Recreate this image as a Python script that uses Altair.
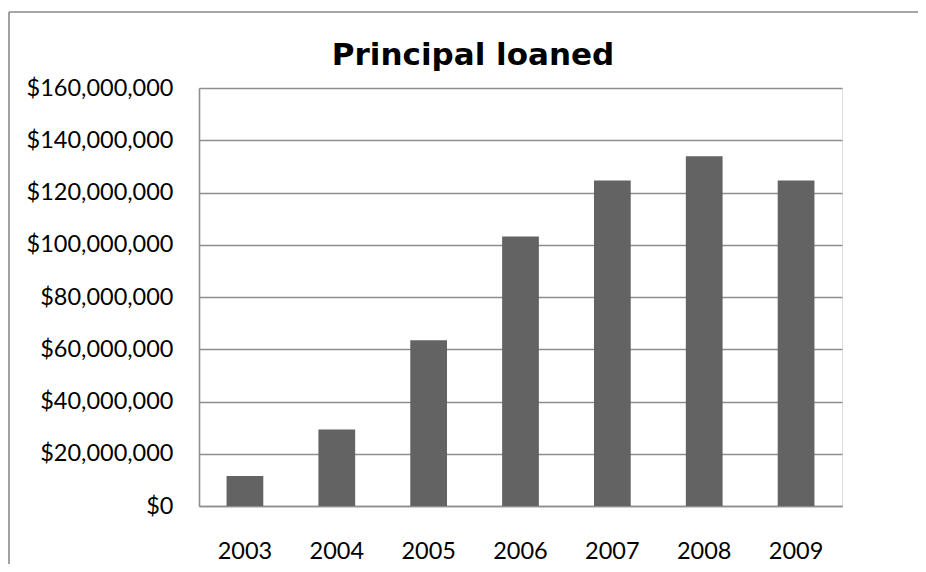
import altair as alt
import pandas as pd

years = ["2003", "2004", "2005", "2006", "2007", "2008", "2009"]
principal = [11500000, 29300000, 63400000, 103200000, 124600000, 133900000, 124600000]
y_ticks = [0, 20000000, 40000000, 60000000, 80000000, 100000000, 120000000, 140000000, 160000000]
title_text = "Principal loaned"

df = pd.DataFrame({"year": years, "principal": principal})

W, H = 643, 418

bars = alt.Chart(df).mark_bar(color="#636363").encode(
    x=alt.X("year:N", sort=years, title=None,
            scale=alt.Scale(paddingInner=0.6, paddingOuter=0.3),
            axis=alt.Axis(labelAngle=0, ticks=False, labelPadding=33,
                          labelFont="Lato", labelFontSize=23.5, labelColor="#000000",
                          domainColor="#8e8e8e", domainWidth=1.6, grid=False)),
    y=alt.Y("principal:Q", title=None,
            scale=alt.Scale(domain=[0, 160000000], nice=False),
            axis=alt.Axis(values=y_ticks, format="$,.0f", ticks=False, labelPadding=26,
                          labelFont="Lato", labelFontSize=23.5, labelColor="#000000",
                          domainColor="#8e8e8e", domainWidth=1.6,
                          gridColor="#8e8e8e", gridWidth=1.6, gridOpacity=1)),
)

frame_df = pd.DataFrame({"k": [0]})
left_border = alt.Chart(frame_df).mark_rule(color="#8a8a8a", strokeWidth=1.6).encode(
    x=alt.value(-190), y=alt.value(-76), y2=alt.value(H + 80))
top_border = alt.Chart(frame_df).mark_rule(color="#8a8a8a", strokeWidth=1.6).encode(
    x=alt.value(-190), x2=alt.value(W + 150), y=alt.value(-76))
title = alt.Chart(frame_df).mark_text(
    font="DejaVu Sans", fontSize=31, fontWeight="bold", color="#000000",
    align="center", baseline="alphabetic").encode(
    x=alt.value(274), y=alt.value(-23), text=alt.value(title_text))

chart = alt.layer(left_border, top_border, title, bars).properties(
    width=W, height=H,
    autosize=alt.AutoSizeParams(type="none"),
    padding={"left": 191, "top": 80, "right": 76, "bottom": 58},
).configure_view(stroke=None).configure(background="white")

chart.save("out.html", embed_options={"renderer": "svg", "actions": False})
